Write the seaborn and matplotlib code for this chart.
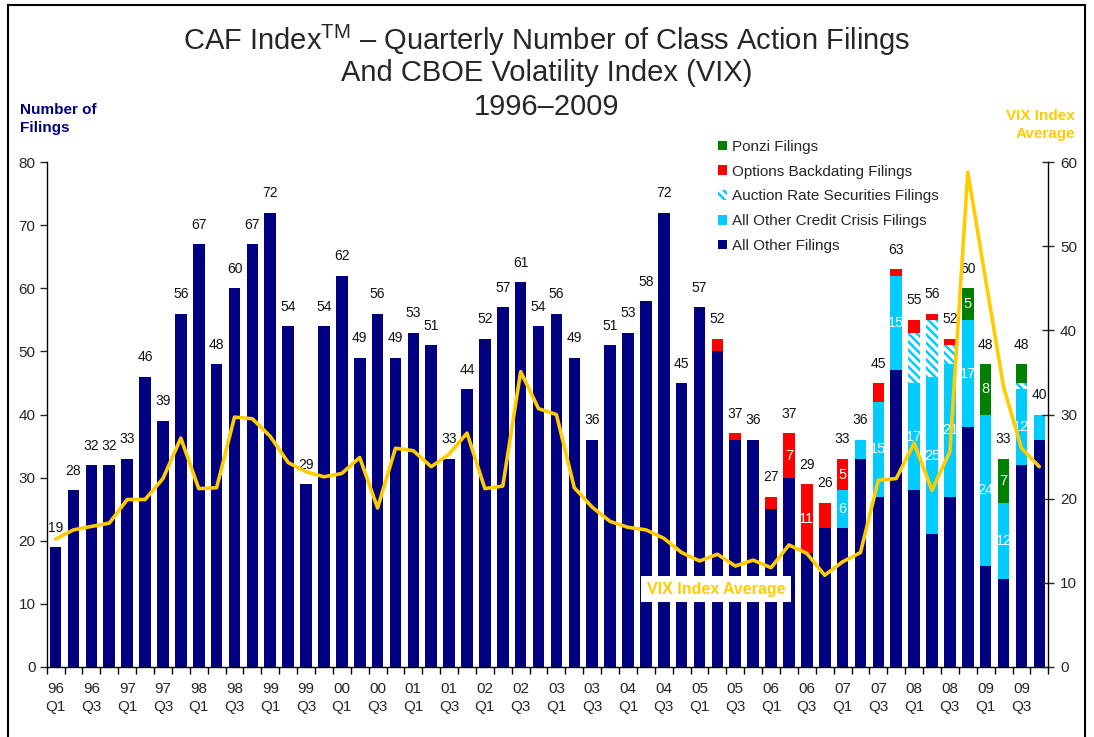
import numpy as np
import pandas as pd
import matplotlib
matplotlib.use("Agg")
import matplotlib.pyplot as plt
from matplotlib.patches import Patch, Rectangle
import seaborn as sns

# ---------------- data ----------------
quarters = [
    "96 Q1", "96 Q2", "96 Q3", "96 Q4", "97 Q1", "97 Q2", "97 Q3", "97 Q4",
    "98 Q1", "98 Q2", "98 Q3", "98 Q4", "99 Q1", "99 Q2", "99 Q3", "99 Q4",
    "00 Q1", "00 Q2", "00 Q3", "00 Q4", "01 Q1", "01 Q2", "01 Q3", "01 Q4",
    "02 Q1", "02 Q2", "02 Q3", "02 Q4", "03 Q1", "03 Q2", "03 Q3", "03 Q4",
    "04 Q1", "04 Q2", "04 Q3", "04 Q4", "05 Q1", "05 Q2", "05 Q3", "05 Q4",
    "06 Q1", "06 Q2", "06 Q3", "06 Q4", "07 Q1", "07 Q2", "07 Q3", "07 Q4",
    "08 Q1", "08 Q2", "08 Q3", "08 Q4", "09 Q1", "09 Q2", "09 Q3", "09 Q4",
]

all_other = [
    19, 28, 32, 32, 33, 46, 39, 56,
    67, 48, 60, 67, 72, 54, 29, 54,
    62, 49, 56, 49, 53, 51, 33, 44,
    52, 57, 61, 54, 56, 49, 36, 51,
    53, 58, 72, 45, 57, 50, 36, 36,
    25, 30, 18, 22, 22, 33, 27, 47,
    28, 21, 27, 38, 16, 14, 32, 36,
]
credit_crisis = [0] * 44 + [6, 3, 15, 15, 17, 25, 21, 17, 24, 12, 12, 4]
auction_rate = [0] * 48 + [8, 9, 3, 0, 0, 0, 1, 0]
backdating = [0] * 37 + [2, 1, 0, 2, 7, 11, 4, 5, 0, 3, 1, 2, 1, 1, 0, 0, 0, 0, 0]
ponzi = [0] * 51 + [5, 8, 7, 3, 0]

vix = [
    15.2, 16.3, 16.7, 17.1, 19.9, 19.9, 22.4, 27.2,
    21.2, 21.3, 29.7, 29.5, 27.4, 24.3, 23.2, 22.6,
    23.0, 24.9, 18.9, 26.0, 25.7, 23.8, 25.3, 27.8,
    21.2, 21.5, 35.1, 30.7, 30.0, 21.3, 19.0, 17.3,
    16.6, 16.3, 15.3, 13.6, 12.6, 13.4, 12.0, 12.7,
    11.8, 14.5, 13.5, 10.9, 12.5, 13.6, 22.2, 22.4,
    26.6, 21.0, 25.6, 58.8, 46.0, 33.3, 26.0, 23.8,
]

tick_labels = [
    "96\nQ1", "96\nQ3", "97\nQ1", "97\nQ3", "98\nQ1", "98\nQ3", "99\nQ1",
    "99\nQ3", "00\nQ1", "00\nQ3", "01\nQ1", "01\nQ3", "02\nQ1", "02\nQ3",
    "03\nQ1", "03\nQ3", "04\nQ1", "04\nQ3", "05\nQ1", "05\nQ3", "06\nQ1",
    "06\nQ3", "07\nQ1", "07\nQ3", "08\nQ1", "08\nQ3", "09\nQ1", "09\nQ3",
]

series_names = ["All Other Filings", "All Other Credit Crisis Filings",
                "Auction Rate Securities Filings", "Options Backdating Filings",
                "Ponzi Filings"]

# ---------------- styling ----------------
NAVY = "#000080"
CYAN = "#00CCFF"
RED = "#FF0000"
GREEN = "#008000"
GOLD = "#FFCC00"

sns.set_style("ticks")
plt.rcParams["font.family"] = ["Liberation Sans", "DejaVu Sans"]
plt.rcParams["mathtext.fontset"] = "custom"
plt.rcParams["mathtext.rm"] = "Liberation Sans"
plt.rcParams["hatch.linewidth"] = 1.8

df = pd.DataFrame({
    "quarter": quarters,
    "navy": all_other,
    "cyan": credit_crisis,
    "ars": auction_rate,
    "red": backdating,
    "green": ponzi,
})
df["c1"] = df["navy"]
df["c2"] = df["c1"] + df["cyan"]
df["c3"] = df["c2"] + df["ars"]
df["c4"] = df["c3"] + df["red"]
df["c5"] = df["c4"] + df["green"]

fig = plt.figure(figsize=(10.94, 7.37), dpi=100)
ax = fig.add_axes([0.0427, 0.095, 0.9155, 0.685])

W = 0.65
common = dict(x="quarter", order=quarters, ax=ax, width=W, saturation=1,
              linewidth=0, errorbar=None)
sns.barplot(data=df, y="c5", color=GREEN, **common)
sns.barplot(data=df, y="c4", color=RED, **common)
sns.barplot(data=df, y="c3", color="white", edgecolor=CYAN, hatch="\\\\\\\\", **common)
sns.barplot(data=df, y="c2", color=CYAN, **common)
sns.barplot(data=df, y="c1", color=NAVY, **common)

n = len(quarters)
ax.set_xlim(-0.5, n - 0.5)
ax.set_ylim(0, 80)
ax.set_yticks(np.arange(0, 81, 10))
ax.set_xlabel("")
ax.set_ylabel("")
ax.set_xticks(np.arange(-0.5, n, 1.0))
ax.set_xticklabels([])
ax.set_xticks(np.arange(0, n, 2), minor=True)
ax.set_xticklabels(tick_labels, minor=True, fontsize=11, linespacing=1.3)
ax.tick_params(axis="x", which="major", direction="out", length=5, width=1, color="black")
ax.tick_params(axis="x", which="minor", length=0, pad=11)
ax.tick_params(axis="y", direction="out", length=5, width=1, labelsize=11, pad=3)
for s in ["top", "right"]:
    ax.spines[s].set_visible(False)
for s in ["left", "bottom"]:
    ax.spines[s].set_color("black")
    ax.spines[s].set_linewidth(1)

# total labels
for i, tot in enumerate(df["c5"]):
    ax.annotate(str(int(tot)), (i, tot), xytext=(0, 14), textcoords="offset points",
                ha="center", va="center", fontsize=10, color="#111111")

# segment labels
for col, lo, hi in [("cyan", "c1", "c2"), ("red", "c3", "c4"), ("green", "c4", "c5")]:
    for i in range(n):
        v = df[col].iloc[i]
        if v >= 5:
            ymid = (df[lo].iloc[i] + df[hi].iloc[i]) / 2
            ax.text(i, ymid, str(int(v)), ha="center", va="center",
                    fontsize=10.5, color="white")

ax.text(0.668, 0.154, "VIX Index Average", transform=ax.transAxes, ha="center",
        va="center", fontsize=11.5, fontweight="bold", color=GOLD, zorder=10,
        bbox=dict(boxstyle="square,pad=0.35", facecolor="white", edgecolor="none"))

# VIX line
ax2 = ax.twinx()
sns.lineplot(x=np.arange(n), y=vix, ax=ax2, color=GOLD, linewidth=2.6)
ax2.set_ylim(0, 60)
ax2.set_yticks(np.arange(0, 61, 10))
ax2.set_xlim(-0.5, n - 0.5)
ax2.tick_params(axis="y", direction="inout", length=9, width=1, labelsize=11, pad=4)
for s in ["top", "left", "bottom"]:
    ax2.spines[s].set_visible(False)
ax2.spines["right"].set_color("black")
ax2.spines["right"].set_linewidth(1)

# legend
handles = [
    Patch(facecolor=GREEN, edgecolor="none"),
    Patch(facecolor=RED, edgecolor="none"),
    Patch(facecolor="white", edgecolor=CYAN, hatch="\\\\\\\\", linewidth=0),
    Patch(facecolor=CYAN, edgecolor="none"),
    Patch(facecolor=NAVY, edgecolor="none"),
]
labels = series_names[::-1]
ax2.legend(handles, labels, loc="upper left", bbox_to_anchor=(718 / 1094, 1 - 140 / 737),
           bbox_transform=fig.transFigure, frameon=False, fontsize=11,
           handlelength=0.6, handleheight=0.6, handletextpad=0.3,
           labelspacing=0.7, borderpad=0, borderaxespad=0)

# titles
fig.text(0.5, 1 - 40 / 737, r"CAF Index$^{\mathrm{TM}}$ – Quarterly Number of Class Action Filings",
         ha="center", va="center", fontsize=21)
fig.text(0.5, 1 - 73 / 737, "And CBOE Volatility Index (VIX)", ha="center", va="center", fontsize=21)
fig.text(0.5, 1 - 107 / 737, "1996–2009", ha="center", va="center", fontsize=21)

fig.text(20 / 1094, 1 - 119 / 737, "Number of\nFilings", ha="left", va="center",
         fontsize=11, fontweight="bold", color=NAVY, linespacing=1.3)
fig.text(1075 / 1094, 1 - 125 / 737, "VIX Index\nAverage", ha="right", va="center",
         fontsize=11, fontweight="bold", color=GOLD, linespacing=1.3)

fig.patches.append(Rectangle((8 / 1094, -0.05), (1085 - 8) / 1094, 1 - 5 / 737 + 0.05,
                             transform=fig.transFigure, fill=False, linewidth=1.5,
                             edgecolor="black"))

fig.savefig("out.png", dpi=100)
